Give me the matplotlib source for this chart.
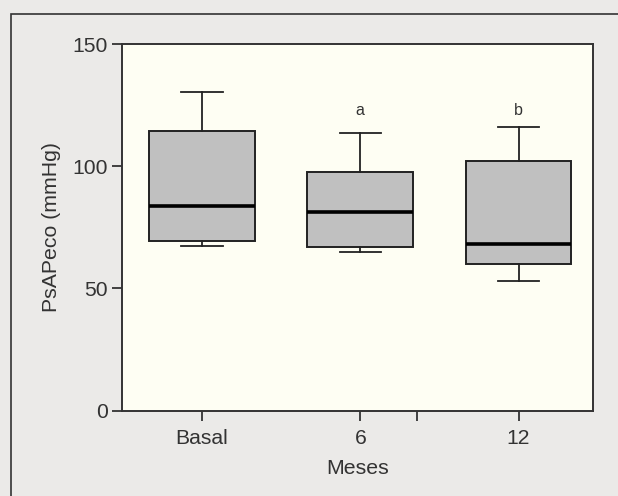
import matplotlib
matplotlib.use("Agg")
import matplotlib.pyplot as plt
from matplotlib.patches import Rectangle

categories = ["Basal", "6", "12"]
whisker_low = [67.4, 65.1, 53.2]
q1 = [69.6, 67.1, 59.9]
median = [83.9, 81.4, 68.2]
q3 = [114.4, 97.8, 102.3]
whisker_high = [130.4, 113.7, 116.2]
annotations = ["", "a", "b"]
annot_y = 122.8
yticks = [0, 50, 100, 150]

plt.rcParams['font.family'] = ['Liberation Sans', 'DejaVu Sans']

fig = plt.figure(figsize=(6.18, 4.96), dpi=100)
fig.patch.set_facecolor('#EBEAE8')
fig.patches.append(Rectangle((11/618, -0.1), 1.2, 1 - 14/496 + 0.1,
                             transform=fig.transFigure, fill=False,
                             edgecolor='#333333', linewidth=1.2))

ax = fig.add_axes([121.7/618, 1 - 410.7/496, (593 - 121.7)/618, (410.7 - 44)/496])
ax.set_facecolor('#FEFEF3')

stats = []
for i, c in enumerate(categories):
    stats.append(dict(label=c, whislo=whisker_low[i], q1=q1[i], med=median[i],
                      q3=q3[i], whishi=whisker_high[i], fliers=[]))

positions = [1, 2, 3]
ax.bxp(stats, positions=positions, widths=0.667, capwidths=0.26,
       showfliers=False, patch_artist=True,
       boxprops=dict(facecolor='#C0C0C0', edgecolor='#222222', linewidth=1.4),
       medianprops=dict(color='black', linewidth=2.6),
       whiskerprops=dict(color='#222222', linewidth=1.3),
       capprops=dict(color='#222222', linewidth=1.3))

txt_color = '#333333'
for p, t in zip(positions, annotations):
    if t:
        ax.text(p, annot_y, t, ha='center', va='center', fontsize=11.5, color=txt_color)

ax.set_xlim(0.493, 3.47)
ax.set_ylim(0, 150)
ax.set_yticks(yticks)
ax.set_xticks(positions)
ax.set_xticklabels(categories)
ax.set_xticks([2.36], minor=True)
ax.tick_params(axis='both', which='both', length=7, width=1.3, color='#333333',
               labelsize=15.2, labelcolor=txt_color, pad=3)
ax.tick_params(axis='x', which='major', pad=6)
for s in ax.spines.values():
    s.set_color('#333333')
    s.set_linewidth(1.4)

ax.set_xlabel("Meses", fontsize=15.3, color=txt_color, labelpad=8)
ax.set_ylabel("PsAPeco (mmHg)", fontsize=15.3, color=txt_color, labelpad=8)

fig.savefig("out.png", dpi=100, facecolor=fig.get_facecolor())
